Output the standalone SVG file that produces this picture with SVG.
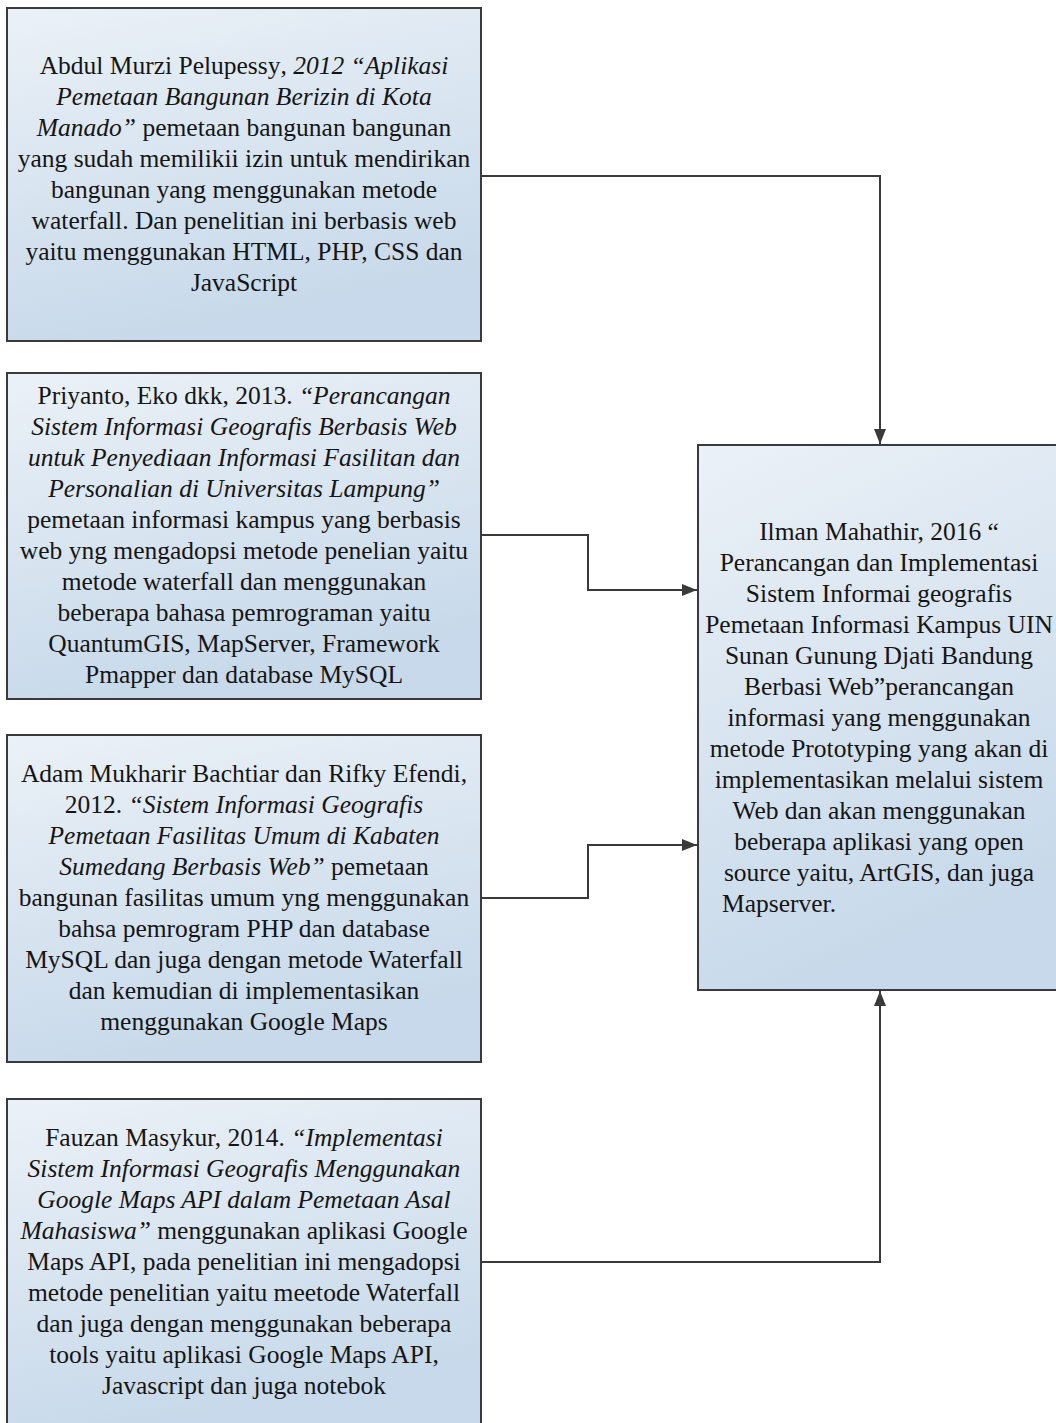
<svg xmlns="http://www.w3.org/2000/svg" width="1056" height="1423" viewBox="0 0 1056 1423">
<style>
.box{fill:url(#g);stroke:#3a3a3a;stroke-width:2}
.t{font-family:"Liberation Serif","Times New Roman",serif;font-size:25.5px;fill:#151515;text-anchor:middle}
.i{font-style:italic}
.c{fill:none;stroke:#3a3a3a;stroke-width:2}
</style>
<defs>
<linearGradient id="g" x1="0" y1="0" x2="0.3" y2="1">
<stop offset="0" stop-color="#ebf1f7"/>
<stop offset="1" stop-color="#c7d9ea"/>
</linearGradient>
<marker id="a" viewBox="0 0 15 12" refX="15" refY="6" markerWidth="15" markerHeight="12" markerUnits="userSpaceOnUse" orient="auto">
<path d="M0,0 L15,6 L0,12 Z" fill="#3a3a3a"/>
</marker>
</defs>
<rect width="1056" height="1423" fill="#ffffff"/>
<g id="connectors">
<path class="c" d="M481,176 H880 V444" marker-end="url(#a)"/>
<path class="c" d="M481,535 H588 V590 H697" marker-end="url(#a)"/>
<path class="c" d="M481,898 H588 V845 H697" marker-end="url(#a)"/>
<path class="c" d="M481,1262 H880 V991" marker-end="url(#a)"/>
</g>
<g id="node1">
<rect class="box" x="7" y="8" width="474" height="333"/>
<text class="t" x="244" y="74">Abdul Murzi Pelupessy<tspan class="i">, 2012 “Aplikasi</tspan></text>
<text class="t i" x="244" y="105">Pemetaan Bangunan Berizin di Kota</text>
<text class="t" x="244" y="136"><tspan class="i">Manado”</tspan> pemetaan bangunan bangunan</text>
<text class="t" x="244" y="167">yang sudah memilikii izin untuk mendirikan</text>
<text class="t" x="244" y="198">bangunan yang menggunakan metode</text>
<text class="t" x="244" y="229">waterfall. Dan penelitian ini berbasis web</text>
<text class="t" x="244" y="260">yaitu menggunakan HTML, PHP, CSS dan</text>
<text class="t" x="244" y="291">JavaScript</text>
</g>
<g id="node2">
<rect class="box" x="7" y="373" width="474" height="326"/>
<text class="t" x="244" y="404">Priyanto, Eko dkk, 2013. <tspan class="i">“Perancangan</tspan></text>
<text class="t i" x="244" y="435">Sistem Informasi Geografis Berbasis Web</text>
<text class="t i" x="244" y="466">untuk Penyediaan Informasi Fasilitan dan</text>
<text class="t i" x="244" y="497">Personalian di Universitas Lampung”</text>
<text class="t" x="244" y="528">pemetaan informasi kampus yang berbasis</text>
<text class="t" x="244" y="559">web yng mengadopsi metode penelian yaitu</text>
<text class="t" x="244" y="590">metode waterfall dan menggunakan</text>
<text class="t" x="244" y="621">beberapa bahasa pemrograman yaitu</text>
<text class="t" x="244" y="652">QuantumGIS, MapServer, Framework</text>
<text class="t" x="244" y="683">Pmapper dan database MySQL</text>
</g>
<g id="node3">
<rect class="box" x="7" y="735" width="474" height="327"/>
<text class="t" x="244" y="782">Adam Mukharir Bachtiar dan Rifky Efendi,</text>
<text class="t" x="244" y="813">2012. <tspan class="i">“Sistem Informasi Geografis</tspan></text>
<text class="t i" x="244" y="844">Pemetaan Fasilitas Umum di Kabaten</text>
<text class="t" x="244" y="875"><tspan class="i">Sumedang Berbasis Web”</tspan> pemetaan</text>
<text class="t" x="244" y="906">bangunan fasilitas umum yng menggunakan</text>
<text class="t" x="244" y="937">bahsa pemrogram PHP dan database</text>
<text class="t" x="244" y="968">MySQL dan juga dengan metode Waterfall</text>
<text class="t" x="244" y="999">dan kemudian di implementasikan</text>
<text class="t" x="244" y="1030">menggunakan Google Maps</text>
</g>
<g id="node4">
<rect class="box" x="7" y="1099" width="474" height="330"/>
<text class="t" x="244" y="1146">Fauzan Masykur, 2014. <tspan class="i">“Implementasi</tspan></text>
<text class="t i" x="244" y="1177">Sistem Informasi Geografis Menggunakan</text>
<text class="t i" x="244" y="1208">Google Maps API dalam Pemetaan Asal</text>
<text class="t" x="244" y="1239"><tspan class="i">Mahasiswa”</tspan> menggunakan aplikasi Google</text>
<text class="t" x="244" y="1270">Maps API, pada penelitian ini mengadopsi</text>
<text class="t" x="244" y="1301">metode penelitian yaitu meetode Waterfall</text>
<text class="t" x="244" y="1332">dan juga dengan menggunakan beberapa</text>
<text class="t" x="244" y="1363">tools yaitu aplikasi Google Maps API,</text>
<text class="t" x="244" y="1394">Javascript dan juga notebok</text>
</g>
<g id="node5">
<rect class="box" x="698" y="445" width="364" height="545"/>
<text class="t" x="879" y="540">Ilman Mahathir, 2016 “</text>
<text class="t" x="879" y="571">Perancangan dan Implementasi</text>
<text class="t" x="879" y="602">Sistem Informai geografis</text>
<text class="t" x="879" y="633">Pemetaan Informasi Kampus UIN</text>
<text class="t" x="879" y="664">Sunan Gunung Djati Bandung</text>
<text class="t" x="879" y="695">Berbasi Web”perancangan</text>
<text class="t" x="879" y="726">informasi yang menggunakan</text>
<text class="t" x="879" y="757">metode Prototyping yang akan di</text>
<text class="t" x="879" y="788">implementasikan melalui sistem</text>
<text class="t" x="879" y="819">Web dan akan menggunakan</text>
<text class="t" x="879" y="850">beberapa aplikasi yang open</text>
<text class="t" x="879" y="881">source yaitu, ArtGIS, dan juga</text>
<text class="t" x="722" y="912" style="text-anchor:start">Mapserver.</text>
</g>
</svg>
